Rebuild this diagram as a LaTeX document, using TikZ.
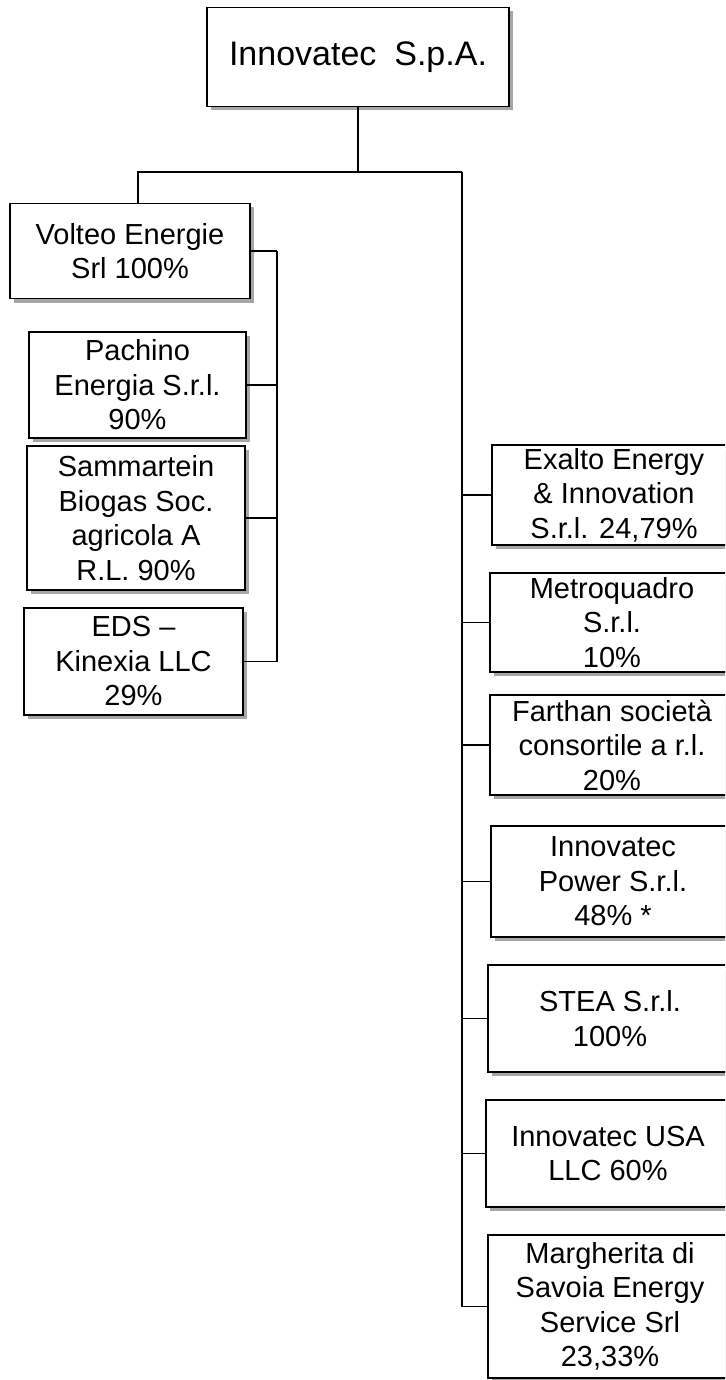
\documentclass[tikz,border=0pt]{standalone}
\usepackage{fontspec}
\setmainfont{Liberation Sans}
\usetikzlibrary{positioning,shadows}

\begin{document}
\begin{tikzpicture}[x=1pt, y=-1pt,
    every node/.style={font=\fontsize{29}{34.5}\selectfont},
    firm/.style={rectangle, draw=black, fill=white, line width=1.5pt, align=center, inner sep=0pt,
      drop shadow={shadow xshift=4pt, shadow yshift=-4pt, fill=black!35, opacity=1}},
    link/.style={line width=1.4pt}]
    \useasboundingbox (0,0) rectangle (725,1380);
    \clip (0,0) rectangle (725,1380);

    \node[firm, minimum width=302, minimum height=99, font=\fontsize{34}{42}\selectfont] (parent) at (358, 57) {Innovatec\hspace{0.25em} S.p.A.};

    % left branch
    \node[firm, minimum width=240, minimum height=95] (volteo) at (130, 251) {Volteo Energie\\Srl 100\%};
    \node[firm, minimum width=217, minimum height=106] (pachino) at (137.5, 385) {Pachino\\Energia S.r.l.\\90\%};
    \node[firm, minimum width=218, minimum height=144] (sammartein) at (136, 518) {Sammartein\\Biogas Soc.\\agricola A\\R.L. 90\%};
    \node[firm, minimum width=219, minimum height=107] (eds) at (133.5, 661.5) {EDS \textendash\\Kinexia LLC\\29\%};

    % right branch
    \node[firm, minimum width=244, minimum height=100] (exalto) at (614, 495) {Exalto Energy\\\& Innovation\\S.r.l. 24,79\%};
    \node[firm, minimum width=244, minimum height=99] (metro) at (612, 622.5) {Metroquadro\\S.r.l.\\10\%};
    \node[firm, minimum width=244, minimum height=100] (farthan) at (612, 745) {Farthan società\\consortile a r.l.\\20\%};
    \node[firm, minimum width=244, minimum height=111] (power) at (613, 881.5) {Innovatec\\Power S.r.l.\\48\% *};
    \node[firm, minimum width=244, minimum height=107] (stea) at (610, 1018.5) {STEA S.r.l.\\100\%};
    \node[firm, minimum width=244, minimum height=107] (usa) at (608, 1153.5) {Innovatec USA\\LLC 60\%};
    \node[firm, minimum width=244, minimum height=143] (marg) at (610, 1306.5) {Margherita di\\Savoia Energy\\Service Srl\\23,33\%};

    \coordinate (hub) at (358, 172);
    \coordinate (rtrunk) at (462, 172);
    \coordinate (ltrunk) at (277, 251);

    \draw[link] (parent) -- (hub);
    \draw[link] (hub) -| ([xshift=8pt]volteo.north);
    \draw[link] (hub) -- (rtrunk);
    \foreach \n in {exalto,metro,farthan,power,stea,usa,marg}
      \draw[link] (rtrunk) |- (\n.west);
    \draw[link] (volteo.east) -- (ltrunk);
    \foreach \n in {pachino,sammartein,eds}
      \draw[link] (ltrunk) |- (\n.east);
  \end{tikzpicture}
\end{document}
